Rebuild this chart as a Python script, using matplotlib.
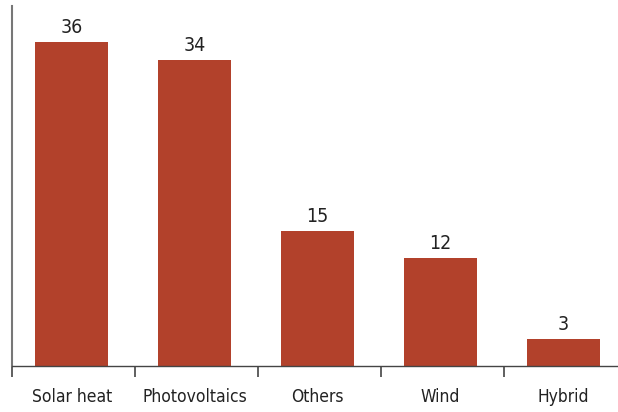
import matplotlib
matplotlib.use("Agg")
import matplotlib.pyplot as plt
import numpy as np

categories = ["Solar heat", "Photovoltaics", "Others", "Wind", "Hybrid"]
values = [36, 34, 15, 12, 3]

plt.rcParams["font.family"] = ["DejaVu Sans"]
plt.rcParams["font.stretch"] = "condensed"

fig = plt.figure(figsize=(6.18, 4.12), dpi=100)
ax = fig.add_axes([12 / 618, 46 / 412, 606 / 618, 360 / 412])

x = np.arange(len(categories))
bars = ax.bar(x - 0.015, values, width=0.59, color="#B2412B")

for xi, v in zip(x, values):
    ax.text(xi - 0.015, v + 0.6, str(v), ha="center", va="bottom", fontsize=14,
            color="#222222", fontstretch="condensed")

ax.set_xlim(-0.5, -0.5 + 606 / 123)
ax.set_ylim(0, 40)

# ticks sit on the category edges, labels in between
ax.set_xticks(np.arange(len(categories)) - 0.5)
ax.set_xticklabels([])
ax.set_xticks(x - 0.015, minor=True)
ax.set_xticklabels(categories, minor=True, fontsize=12.5, color="#222222", fontstretch="condensed")
ax.tick_params(axis="x", which="major", direction="out", length=8, width=1.2, color="#444444")
ax.tick_params(axis="x", which="minor", length=0, pad=16)
ax.set_yticks([])

for side in ["top", "right"]:
    ax.spines[side].set_visible(False)
ax.spines["left"].set_color("#777777")
ax.spines["left"].set_linewidth(1.5)
ax.spines["bottom"].set_color("#444444")
ax.spines["bottom"].set_linewidth(1.0)

fig.savefig("out.png", dpi=100)
